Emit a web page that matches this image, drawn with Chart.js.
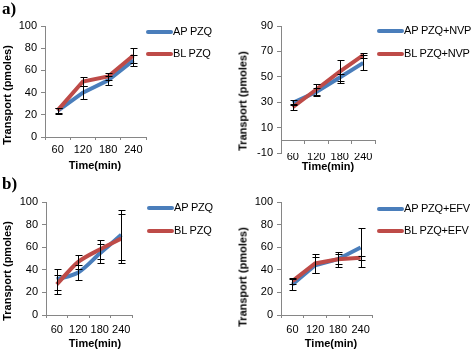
<!DOCTYPE html>
<html>
<head>
<meta charset="utf-8">
<title>Transport of PZQ</title>
<script src="https://cdn.jsdelivr.net/npm/chart.js@4.4.0/dist/chart.umd.min.js"></script>
<style>
    body { margin: 0; background: #fff; }
    #wrap {
        position: relative;
        width: 473px;
        height: 351px;
        overflow: hidden;
        font-family: "Liberation Sans", Arial, sans-serif;
        font-size: 11px;
        color: #000;
    }
    #wrap canvas { position: absolute; }
    .txt { position: absolute; white-space: nowrap; line-height: 1; }
    .key-text { letter-spacing: -0.2px; }
    .axis-title { font-weight: bold; transform: translate(-50%, -50%); }
    .axis-title.vert { transform: translate(-50%, -50%) rotate(-90deg); }
    .panel-tag { font-family: "Liberation Serif", "Times New Roman", serif; font-weight: bold; font-size: 17px; }
    .key-line { position: absolute; height: 4px; border-radius: 2px; }
</style>
</head>
<body>
<div id="wrap"></div>
<script>
// Data
const timeLabels = ['60', '120', '180', '240'];

// a) PZQ alone
const apPzqA = [23.5, 40, 51, 69];
const apPzqAErr = [2.5, 6, 4, 5];
const blPzqA = [24, 50, 54.5, 73.5];
const blPzqAErr = [2.5, 4, 3.5, 6.5];

// a) PZQ + NVP
const apPzqNvp = [29.5, 38, 49.5, 61];
const apPzqNvpErr = [2, 3.3, 3, 6];
const blPzqNvp = [26, 40, 54, 67];
const blPzqNvpErr = [2.5, 4, 9, 2];

// b) PZQ alone
const apPzqB = [31.5, 37.6, 54.4, 71];
const apPzqBErr = [9, 7, 8.3, 22];
const blPzqB = [27, 47, 58, 67.6];
const blPzqBErr = [8, 6.5, 8.5, 22];

// b) PZQ + EFV
const apPzqEfv = [27, 44, 49.4, 59.7];
const apPzqEfvErr = [5, 7, 6.5, 17];
const blPzqEfv = [30, 45.6, 49.4, 50.6];
const blPzqEfvErr = [3, 8, 4.5, 2];

const apColor = '#4a7ebb';
const blColor = '#be4b48';
const axisColor = '#868686';

Chart.defaults.font.family = '"Liberation Sans", Arial, sans-serif';
Chart.defaults.font.size = 11;
Chart.defaults.color = '#000';

// Error bars drawn through the y scale
const errorBars = {
    id: 'errorBars',
    afterDatasetsDraw(chart) {
        const ctx = chart.ctx;
        const yScale = chart.scales.y;
        chart.data.datasets.forEach((ds, i) => {
            const meta = chart.getDatasetMeta(i);
            ctx.save();
            ctx.strokeStyle = '#000';
            ctx.lineWidth = 1;
            meta.data.forEach((pt, j) => {
                const v = ds.data[j];
                const e = ds.errors[j];
                const top = Math.round(yScale.getPixelForValue(v + e)) + 0.5;
                const bot = Math.round(yScale.getPixelForValue(v - e)) + 0.5;
                const x = Math.round(pt.x) + 0.5;
                ctx.beginPath();
                ctx.moveTo(x, top); ctx.lineTo(x, bot);
                ctx.moveTo(x - 3, top); ctx.lineTo(x + 4, top);
                ctx.moveTo(x - 3, bot); ctx.lineTo(x + 4, bot);
                ctx.stroke();
            });
            ctx.restore();
        });
    }
};

// Panel layouts (page coords)
const panels = [
    { left: 0, top: 0, w: 150, h: 162, yw: 45, padTop: 26, min: 0, max: 100, step: 20,
      ap: apPzqA, apErr: apPzqAErr, bl: blPzqA, blErr: blPzqAErr,
      apName: 'AP PZQ', blName: 'BL PZQ', tension: 0, labelPad: 3,
      tag: 'a)', tagY: 0, keyX: 146, keyY: [32, 54], yTitle: [7, 95], xTitle: [95, 165] },
    { left: 236, top: 0, w: 143, h: 178, yw: 45, padTop: 26, min: -10, max: 90, step: 20,
      ap: apPzqNvp, apErr: apPzqNvpErr, bl: blPzqNvp, blErr: blPzqNvpErr,
      apName: 'AP PZQ+NVP', blName: 'BL PZQ+NVP', tension: 0, labelPad: -3, zeroAxis: true,
      keyX: 377, keyY: [31, 54], yTitle: [243, 101], xTitle: [328, 166] },
    { left: 0, top: 175, w: 136, h: 165, yw: 46, padTop: 27, min: 0, max: 100, step: 20,
      ap: apPzqB, apErr: apPzqBErr, bl: blPzqB, blErr: blPzqBErr,
      apName: 'AP PZQ', blName: 'BL PZQ', tension: 0.3, labelPad: 5,
      tag: 'b)', tagY: 175, keyX: 147, keyY: [208, 231], yTitle: [7, 271], xTitle: [95, 343] },
    { left: 236, top: 175, w: 140, h: 165, yw: 45, padTop: 27, min: 0, max: 100, step: 20,
      ap: apPzqEfv, apErr: apPzqEfvErr, bl: blPzqEfv, blErr: blPzqEfvErr,
      apName: 'AP PZQ+EFV', blName: 'BL PZQ+EFV', tension: 0, labelPad: 5,
      keyX: 377, keyY: [209, 231], yTitle: [243, 277], xTitle: [331, 343] }
];

const wrap = document.getElementById('wrap');

function addText(cls, text, x, y) {
    const d = document.createElement('div');
    d.className = 'txt ' + cls;
    d.textContent = text;
    d.style.left = x + 'px';
    d.style.top = y + 'px';
    wrap.appendChild(d);
    return d;
}

function buildScales(p) {
    const y = {
        min: p.min,
        max: p.max,
        ticks: { stepSize: p.step, padding: 4 },
        grid: { drawOnChartArea: false, tickLength: 4, color: axisColor },
        border: { color: axisColor },
        afterFit: s => { s.width = p.yw; }
    };
    const labelAxis = {
        axis: 'x',
        type: 'category',
        position: 'bottom',
        offset: true,
        ticks: { padding: p.labelPad, maxRotation: 0, minRotation: 0, autoSkip: false },
        afterFit: s => { s.height = 25; }
    };
    if (!p.zeroAxis) {
        labelAxis.grid = { offset: true, drawOnChartArea: false, tickLength: 3, color: axisColor };
        labelAxis.border = { color: axisColor };
        return { x: labelAxis, y: y };
    }
    // horizontal axis crosses at 0, labels stay at the bottom
    labelAxis.grid = { display: false, drawTicks: false };
    labelAxis.border = { display: false };
    return {
        x: {
            type: 'category',
            position: { y: 0 },
            offset: true,
            grid: { offset: true, drawOnChartArea: false, tickLength: 3, color: axisColor },
            border: { color: axisColor },
            ticks: { display: false }
        },
        x2: labelAxis,
        y: y
    };
}

panels.forEach(p => {
    const canvas = document.createElement('canvas');
    canvas.width = p.w;
    canvas.height = p.h;
    canvas.style.left = p.left + 'px';
    canvas.style.top = p.top + 'px';
    wrap.appendChild(canvas);

    new Chart(canvas, {
        type: 'line',
        data: {
            labels: timeLabels,
            datasets: [
                { label: p.apName, data: p.ap, errors: p.apErr, borderColor: apColor,
                  borderWidth: 4, pointRadius: 0, tension: p.tension, order: 2 },
                { label: p.blName, data: p.bl, errors: p.blErr, borderColor: blColor,
                  borderWidth: 4, pointRadius: 0, tension: p.tension, order: 1 }
            ]
        },
        options: {
            responsive: false,
            animation: false,
            events: [],
            layout: { padding: { top: p.padTop, right: 4, left: 0, bottom: 0 } },
            plugins: { legend: { display: false }, tooltip: { enabled: false } },
            scales: buildScales(p)
        },
        plugins: [errorBars]
    });

    // legend
    [[p.apName, apColor], [p.blName, blColor]].forEach(([name, color], k) => {
        const line = document.createElement('div');
        line.className = 'key-line';
        line.style.left = p.keyX + 'px';
        line.style.top = (p.keyY[k] - 2) + 'px';
        line.style.width = '27px';
        line.style.background = color;
        wrap.appendChild(line);
        addText('key-text', name, p.keyX + 27, p.keyY[k] - 6);
    });

    // axis titles
    addText('axis-title vert', 'Transport (pmoles)', p.yTitle[0], p.yTitle[1]);
    addText('axis-title', 'Time(min)', p.xTitle[0], p.xTitle[1]);
    if (p.tag) addText('panel-tag', p.tag, 2, p.tagY);
});
</script>
</body>
</html>
